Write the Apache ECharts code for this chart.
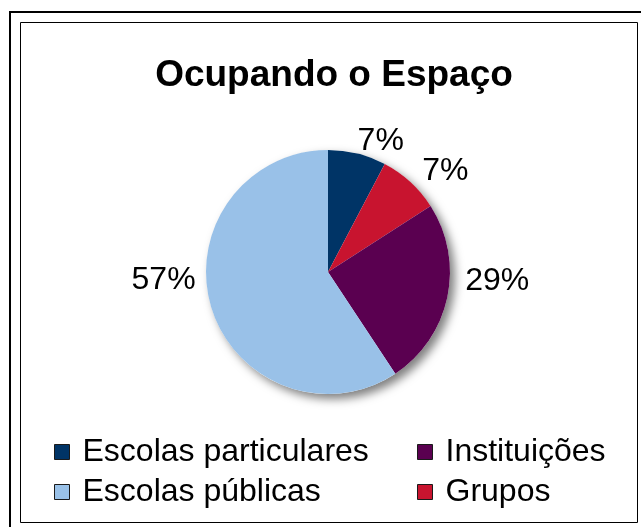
<!DOCTYPE html>
<html>
<head>
<meta charset="utf-8">
<script src="https://cdn.jsdelivr.net/npm/echarts@6/dist/echarts.min.js"></script>
<style>
html,body{margin:0;padding:0;background:#fff;}
#chart{width:641px;height:527px;}
</style>
</head>
<body>
<div id="chart"></div>
<script>
// Data
const titleText = 'Ocupando o Espaço';
const categories = ['Escolas particulares', 'Grupos', 'Instituições', 'Escolas públicas'];
// slice sizes as drawn (angles)
const sliceValues = [7.7, 8.2, 24.8, 59.3];
// percentages as printed on the chart
const printedLabels = ['7%', '7%', '29%', '57%'];
const legendLeftColumn = ['Escolas particulares', 'Escolas públicas'];
const legendRightColumn = ['Instituições', 'Grupos'];

// styling
const colors = ['#003466', '#C8142F', '#5A0050', '#99C1E8'];
const labelNudge = [[-7, -3], [0, -3], [3, -18], [-1, -30]];
const FONT = '"Liberation Sans", Arial, Helvetica, sans-serif';

const chart = echarts.init(document.getElementById('chart'), null, {renderer: 'canvas'});

const pieData = categories.map((c, i) => ({
  name: c,
  value: sliceValues[i],
  itemStyle: {color: colors[i]},
  label: {formatter: printedLabels[i]}
}));

const legendCommon = {
  orient: 'vertical',
  top: 431,
  icon: 'rect',
  itemWidth: 15,
  itemHeight: 15,
  itemGap: 8,
  itemStyle: {borderColor: '#1a1a1a', borderWidth: 1},
  textStyle: {fontFamily: FONT, fontSize: 32, color: '#000', lineHeight: 32, padding: [0, 0, 0, 8]},
  selectedMode: false
};

chart.setOption({
  backgroundColor: '#fff',
  animation: false,
  title: {
    text: titleText,
    left: 329,
    textAlign: 'center',
    top: 52,
    textStyle: {fontFamily: FONT, fontSize: 37, fontWeight: 'bold', color: '#000'}
  },
  legend: [
    Object.assign({}, legendCommon, {left: 49, data: legendLeftColumn}),
    Object.assign({}, legendCommon, {left: 412, data: legendRightColumn})
  ],
  graphic: [
    {type: 'rect', shape: {x: 10, y: 12, width: 660, height: 540}, style: {fill: null, stroke: '#000', lineWidth: 2}, silent: true},
    {type: 'rect', shape: {x: 20.5, y: 22.5, width: 617, height: 500}, style: {fill: null, stroke: '#000', lineWidth: 1}, silent: true}
  ],
  series: [
    {
      type: 'pie',
      silent: true,
      center: [328, 272],
      radius: 122,
      z: 1,
      label: {show: false},
      labelLine: {show: false},
      itemStyle: {color: '#fff', shadowColor: 'rgba(0,0,0,0.5)', shadowBlur: 10, shadowOffsetX: 5, shadowOffsetY: 5},
      data: [{value: 1, name: '_shadow'}],
      legendHoverLink: false
    },
    {
      type: 'pie',
      center: [328, 272],
      radius: 122,
      z: 2,
      startAngle: 90,
      clockwise: true,
      avoidLabelOverlap: false,
      label: {
        show: true,
        position: 'outside',
        fontFamily: FONT,
        fontSize: 32,
        color: '#000'
      },
      labelLine: {show: false, length: 10, length2: 0},
      labelLayout: function (p) {
        const n = labelNudge[p.dataIndex] || [0, 0];
        return {dx: n[0], dy: n[1]};
      },
      data: pieData
    }
  ]
});
</script>
</body>
</html>
